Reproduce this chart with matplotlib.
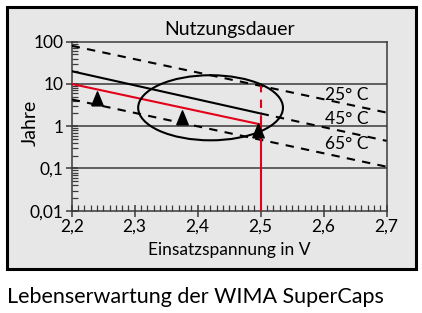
import matplotlib.pyplot as plt
from matplotlib.patches import Ellipse, Rectangle
from matplotlib.ticker import FixedLocator, LogLocator, NullFormatter

plt.rcParams["font.family"] = ["Lato", "DejaVu Sans"]

# data
volt_full = [2.2, 2.7]
life_25 = [80, 2.1]
life_65 = [4.3, 0.11]
volt_low = [2.2, 2.5]
life_45 = [20, 2.0]
volt_high = [2.5, 2.7]
life_45_ext = [2.0, 0.45]
life_red = [10, 1.1]
v_mark = 2.5
vert_dashed = [10, 1.1]
vert_solid = [1.1, 0.01]
arrow_x = [2.24, 2.375, 2.496]
arrow_y = [4.5, 1.6, 0.78]
temp_labels = ["25° C", "45° C", "65° C"]
temp_label_y = [5.6, 1.5, 0.38]
x_ticks = [2.2, 2.3, 2.4, 2.5, 2.6, 2.7]
x_ticklabels = ["2,2", "2,3", "2,4", "2,5", "2,6", "2,7"]
y_ticks = [0.01, 0.1, 1, 10, 100]
y_ticklabels = ["0,01", "0,1", "1", "10", "100"]

bg = "#e6e7e6"
red = "#e3001b"
dark = "#3a3a3a"
dash = (4, 3.5)
arrow_head = [(-0.45, -0.5), (0.45, -0.5), (0, 0.6), (-0.45, -0.5)]

fig = plt.figure(figsize=(4.22, 3.13), dpi=100)
fig.patches.append(Rectangle((0.0166, 0.1406), 0.9692, 0.837, transform=fig.transFigure,
                             facecolor=bg, edgecolor="black", linewidth=2.2, zorder=-5))

ax = fig.add_axes([0.170, 0.3268, 0.746, 0.540])
ax.set_facecolor(bg)
ax.set_yscale("log")
ax.set_xlim(2.2, 2.7)
ax.set_ylim(0.01, 100)

for yv in [0.1, 1, 10]:
    ax.axhline(yv, color=dark, lw=1.1, zorder=1)

ax.plot(volt_full, life_25, color="black", lw=1.5, dashes=dash, zorder=3)
ax.plot(volt_full, life_65, color="black", lw=1.5, dashes=dash, zorder=3)
ax.plot(volt_low, life_45, color="black", lw=1.5, zorder=3)
ax.plot(volt_high, life_45_ext, color="black", lw=1.5, dashes=dash, zorder=3)
ax.plot(volt_low, life_red, color=red, lw=1.5, zorder=4)
ax.plot([v_mark, v_mark], vert_dashed, color=red, lw=1.5, dashes=dash, zorder=4)
ax.plot([v_mark, v_mark], vert_solid, color=red, lw=1.5, zorder=4)
ax.plot(arrow_x, arrow_y, linestyle="none", marker=arrow_head, color="black",
        markersize=11, zorder=5)

ax.add_patch(Ellipse((0.441, 0.609), 0.46, 0.385, transform=ax.transAxes,
                     fill=False, edgecolor="black", lw=1.5, zorder=5))

for lab, yv in zip(temp_labels, temp_label_y):
    ax.text(2.602, yv, lab, ha="left", va="center", fontsize=12.5, zorder=6)

ax.xaxis.set_major_locator(FixedLocator(x_ticks))
ax.set_xticklabels(x_ticklabels)
ax.xaxis.set_minor_locator(FixedLocator([2.2 + i * 0.01 for i in range(51)]))
ax.yaxis.set_major_locator(FixedLocator(y_ticks))
ax.set_yticklabels(y_ticklabels)
ax.yaxis.set_minor_locator(LogLocator(base=10, subs=range(2, 10)))
ax.yaxis.set_minor_formatter(NullFormatter())

ax.tick_params(which="major", direction="inout", length=8, width=1.1, color=dark,
               labelsize=12.5, pad=2)
ax.tick_params(which="minor", direction="in", length=4, width=0.9, color=dark)
for s in ax.spines.values():
    s.set_color(dark)
    s.set_linewidth(1.1)

ax.set_xlabel("Einsatzspannung in V", fontsize=12.5, labelpad=5)
ax.set_ylabel("Jahre", fontsize=14)
ax.yaxis.set_label_coords(-0.105, 0.52)
ax.set_title("Nutzungsdauer", fontsize=14, pad=5)

fig.text(0.017, 0.052, "Lebenserwartung der WIMA SuperCaps", fontsize=15.5, ha="left", va="center")

fig.savefig("out.png", dpi=100)
